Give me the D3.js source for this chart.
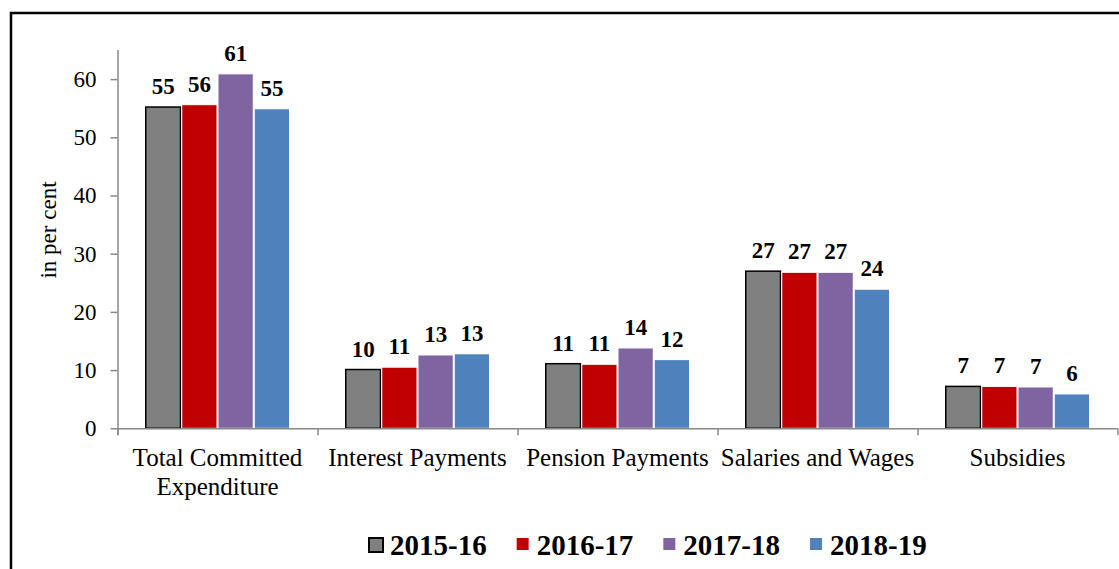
<!DOCTYPE html>
<html>
<head>
<meta charset="utf-8">
<script src="https://cdn.jsdelivr.net/npm/d3@7"></script>
<style>
  body { margin: 0; background: #fff; }
  svg, svg text { font-family: "Times New Roman", "Liberation Serif", "DejaVu Serif", serif; fill: #000; }
</style>
</head>
<body>
<div id="chart-area"></div>
<script>
  // data
  var categories = ['Total Committed Expenditure', 'Interest Payments', 'Pension Payments',
    'Salaries and Wages', 'Subsidies'];
  var years = ['2015-16', '2016-17', '2017-18', '2018-19'];
  var values2015 = [55.2, 10.1, 11.1, 27.0, 7.2];
  var values2016 = [55.6, 10.5, 11.0, 26.8, 7.2];
  var values2017 = [60.9, 12.6, 13.8, 26.8, 7.1];
  var values2018 = [54.9, 12.8, 11.8, 23.9, 5.9];
  var yTicks = [0, 10, 20, 30, 40, 50, 60];

  var colors = ['#808080', '#c00000', '#8064a2', '#4f81bd'];
  var serif = '"Times New Roman", "Liberation Serif", serif';

  var margin = { left: 117.5, right: 1.5, top: 50, bottom: 140.7 };
  var width = 1119, height = 569;
  var groupWidth = width - margin.left - margin.right;
  var groupHeight = height - margin.top - margin.bottom;

  var series = [values2015, values2016, values2017, values2018];
  var rows = categories.map(function (cat, i) {
    return { cat: cat, vals: series.map(function (s, j) { return { year: years[j], idx: j, v: s[i] }; }) };
  });

  var svg = d3.select('#chart-area')
    .append('svg')
      .attr('width', width)
      .attr('height', height)
      .attr('font-family', serif);

  // outer frame, runs off the right and bottom edge
  svg.append('rect')
    .attr('x', 11)
    .attr('y', 13)
    .attr('width', 1200)
    .attr('height', 700)
    .attr('fill', 'none')
    .attr('stroke', '#000')
    .attr('stroke-width', 2.5);

  var graph = svg.append('g')
    .attr('transform', `translate(${margin.left}, ${margin.top})`);

  var x0 = d3.scaleBand()
    .domain(categories)
    .range([0, groupWidth])
    .paddingInner(0.275)
    .paddingOuter(0.1375);

  var x1 = d3.scaleBand()
    .domain(years)
    .range([0, x0.bandwidth()]);

  var y = d3.scaleLinear()
    .domain([0, 65])
    .range([groupHeight, 0]);

  // y axis
  var yAxis = graph.append('g')
    .call(d3.axisLeft(y).tickValues(yTicks).tickSize(7).tickSizeOuter(0).tickPadding(14));
  yAxis.attr('font-family', serif);
  yAxis.select('.domain').attr('stroke', '#888').attr('stroke-width', 1.5)
    .attr('d', `M0.5,0V${groupHeight + 7}`);
  yAxis.selectAll('.tick line').attr('stroke', '#888').attr('stroke-width', 1.5);
  yAxis.selectAll('.tick text').attr('font-size', '23px');

  // y axis title
  graph.append('text')
    .attr('transform', 'rotate(-90)')
    .attr('x', -(230 - margin.top))
    .attr('y', 56 - margin.left)
    .attr('text-anchor', 'middle')
    .attr('font-size', '23px')
    .text('in per cent');

  // bars
  var groups = graph.selectAll('.cat')
    .data(rows)
    .enter()
    .append('g')
      .attr('class', 'cat')
      .attr('transform', (d) => `translate(${x0(d.cat)},0)`);

  groups.selectAll('rect')
    .data((d) => d.vals)
    .enter()
    .append('rect')
      .attr('x', (d) => x1(d.year) + (d.idx === 0 ? 0.75 : 0.5))
      .attr('y', (d) => y(d.v))
      .attr('width', (d) => x1.bandwidth() - (d.idx === 0 ? 1.5 : 1))
      .attr('height', (d) => groupHeight - y(d.v))
      .attr('fill', (d) => colors[d.idx])
      .attr('stroke', (d) => d.idx === 0 ? '#000' : '#fff')
      .attr('stroke-width', (d) => d.idx === 0 ? 1.5 : 1);

  // value labels
  groups.selectAll('.lbl')
    .data((d) => d.vals)
    .enter()
    .append('text')
      .attr('class', 'lbl')
      .attr('x', (d) => x1(d.year) + x1.bandwidth() / 2)
      .attr('y', (d) => y(d.v) - 13)
      .attr('text-anchor', 'middle')
      .attr('font-size', '23px')
      .attr('font-weight', 'bold')
      .text((d) => Math.round(d.v));

  // x axis with ticks at category boundaries
  var xAxisG = graph.append('g')
    .attr('transform', `translate(0, ${groupHeight})`);
  xAxisG.append('line')
    .attr('x1', 0).attr('x2', groupWidth)
    .attr('y1', 0.5).attr('y2', 0.5)
    .attr('stroke', '#888').attr('stroke-width', 1.5);
  xAxisG.selectAll('.xt')
    .data(d3.range(categories.length + 1))
    .enter()
    .append('line')
      .attr('x1', (i) => i * x0.step() + 0.5)
      .attr('x2', (i) => i * x0.step() + 0.5)
      .attr('y1', 0).attr('y2', 7)
      .attr('stroke', '#888').attr('stroke-width', 1.5);

  // category labels, wrapped like the original
  var catLines = { 'Total Committed Expenditure': ['Total Committed', 'Expenditure'] };
  xAxisG.selectAll('.xl')
    .data(categories)
    .enter()
    .append('text')
      .attr('text-anchor', 'middle')
      .attr('font-size', '25px')
      .each(function (c) {
        var lines = catLines[c] || [c];
        var t = d3.select(this);
        lines.forEach(function (l, k) {
          t.append('tspan')
            .attr('x', x0(c) + x0.bandwidth() / 2)
            .attr('y', 38 + k * 29)
            .text(l);
        });
      });

  // legend
  var legend = svg.append('g')
    .attr('transform', 'translate(368, 555)');
  var lx = 0;
  years.forEach(function (yr, i) {
    var item = legend.append('g').attr('transform', `translate(${lx},0)`);
    item.append('rect')
      .attr('x', i === 0 ? 1 : 0)
      .attr('y', -17)
      .attr('width', i === 0 ? 14 : 12)
      .attr('height', i === 0 ? 14 : 12)
      .attr('fill', colors[i])
      .attr('stroke', i === 0 ? '#000' : 'none')
      .attr('stroke-width', 2);
    var t = item.append('text')
      .attr('x', i === 0 ? 22 : 20)
      .attr('font-size', '29px')
      .attr('font-weight', 'bold')
      .text(yr);
    lx += (i === 0 ? 22 : 20) + t.node().getComputedTextLength() + 30;
  });
</script>
</body>
</html>
